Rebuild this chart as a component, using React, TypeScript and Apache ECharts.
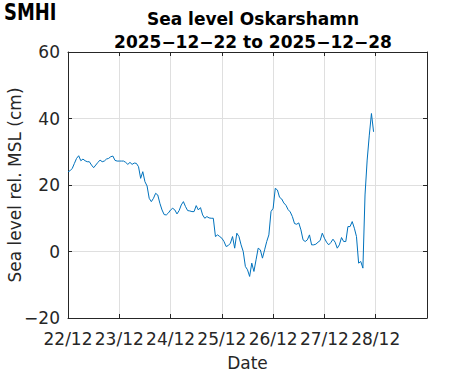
import React, { useEffect, useRef } from "react";
import * as echarts from "echarts";

const titleLines = ["Sea level Oskarshamn", "2025\u221212\u221222 to 2025\u221212\u221228"];
const xTickLabels = ["22/12", "23/12", "24/12", "25/12", "26/12", "27/12", "28/12", ""];
const yTicks = [-20, 0, 20, 40, 60];
const hoursPerDay = 24;
// Hourly sea level (cm) starting 2025-12-22 00:00
const seaLevel = [
  24, 24.3, 25, 26.5, 28, 28.8, 27.3, 27.8, 27.3, 27, 27, 26, 25.2, 26, 26.8, 27.5,
  27, 27.2, 27.8, 28, 28.5, 28.7, 27.4, 27.2, 27.2, 27.2, 27.2, 26.8, 26.2, 26.8, 26.2, 26.6,
  26.5, 25.5, 22, 24, 21, 19.7, 16, 15, 16, 17.5, 17, 14.5, 12.5, 11.1, 11, 11.6,
  12.5, 13, 12.5, 11.3, 12.3, 14, 15, 13.5, 12.3, 12.2, 12, 12, 13.8, 12.5, 13.2, 11,
  10, 10.5, 10.1, 10, 10, 4.5, 5, 4.5, 4, 3, 1.5, 1.8, 2.5, 4.5, 1, 5.5,
  4.5, 2, 0, -4.5, -5.5, -7.5, -3.5, -6, -2.5, 1, 0.5, -2, 0.5, 3, 5, 12,
  13, 19, 18.5, 16.3, 15.8, 14.6, 13.9, 12.6, 11.9, 10.5, 8.4, 8.2, 8.6, 6.5, 3.5, 3,
  3.5, 5, 2, 2, 2.2, 2.8, 3.3, 5.5, 4, 2.8, 2, 2.7, 3.7, 2.8, 1, 2,
  4.2, 3, 3, 7.5, 7.5, 9, 7, 4.5, -3.5, -3, -5, 17, 27.5, 35, 41.5, 36,
];

const FONT = "DejaVu Sans";
const AX = "#262626";

export default function App() {
  const ref = useRef<HTMLDivElement>(null);
  useEffect(() => {
    if (!ref.current) return;
    const chart = echarts.init(ref.current, undefined, { renderer: "svg" });
    const xMax = (xTickLabels.length - 1) * hoursPerDay;
    const yMin = yTicks[0];
    const yMax = yTicks[yTicks.length - 1];
    const yInt = yTicks[1] - yTicks[0];
    const fmt = (v: number) => (v < 0 ? "\u2212" + Math.abs(v) : String(v));
    const baseX = {
      type: "value" as const,
      min: 0,
      max: xMax,
      interval: hoursPerDay,
    };
    const baseY = {
      type: "value" as const,
      min: yMin,
      max: yMax,
      interval: yInt,
    };
    const line = { show: true, onZero: false, lineStyle: { color: AX, width: 1 } };
    const tick = { show: true, inside: true, length: 4, lineStyle: { color: AX } };
    chart.setOption({
      animation: false,
      backgroundColor: "#ffffff",
      title: {
        text: titleLines.join("\n"),
        left: 248,
        top: 2,
        textAlign: "center",
        textStyle: {
          fontFamily: FONT,
          fontSize: 17,
          fontWeight: "bold",
          color: "#000",
          lineHeight: 23,
        },
      },
      graphic: [
        {
          type: "text",
          left: 4,
          top: 1,
          scaleX: 0.78,
          style: {
            text: "SMHI",
            fontFamily: "DejaVu Sans",
            fontWeight: "bold",
            fontSize: 23,
            fill: "#000",
          },
        },
      ],
      grid: {
        left: 68,
        top: 52,
        width: 359,
        height: 266,
        containLabel: false,
        outerBoundsMode: "none",
      },
      xAxis: [
        {
          ...baseX,
          position: "bottom",
          name: "Date",
          nameLocation: "middle",
          nameGap: 36,
          nameMoveOverlap: false,
          nameTextStyle: { fontFamily: FONT, fontSize: 17, color: AX },
          axisLine: line,
          axisTick: tick,
          axisLabel: {
            fontFamily: FONT,
            fontSize: 17,
            color: AX,
            margin: 12,
            hideOverlap: false,
            formatter: (v: number) => xTickLabels[Math.round(v / hoursPerDay)] ?? "",
          },
          splitLine: { show: true, lineStyle: { color: "#dfdfdf", width: 1 } },
        },
        {
          ...baseX,
          position: "top",
          axisLine: line,
          axisTick: tick,
          axisLabel: { show: false },
          splitLine: { show: false },
        },
      ],
      yAxis: [
        {
          ...baseY,
          position: "left",
          name: "Sea level rel. MSL (cm)",
          nameLocation: "middle",
          nameGap: 45,
          nameMoveOverlap: false,
          nameTextStyle: { fontFamily: FONT, fontSize: 17, color: AX },
          axisLine: line,
          axisTick: tick,
          axisLabel: { fontFamily: FONT, fontSize: 17, color: AX, margin: 8, formatter: fmt },
          splitLine: { show: true, lineStyle: { color: "#dfdfdf", width: 1 } },
        },
        {
          ...baseY,
          position: "right",
          axisLine: line,
          axisTick: tick,
          axisLabel: { show: false },
          splitLine: { show: false },
        },
      ],
      series: [
        {
          type: "line",
          xAxisIndex: 0,
          yAxisIndex: 0,
          data: seaLevel.map((v, i) => [i, v]),
          showSymbol: false,
          symbol: "none",
          lineStyle: { color: "#0072BD", width: 1 },
        },
      ],
    });
    return () => chart.dispose();
  }, []);
  return <div ref={ref} style={{ width: 471, height: 371, position: "absolute", left: 0, top: 0 }} />;
}
